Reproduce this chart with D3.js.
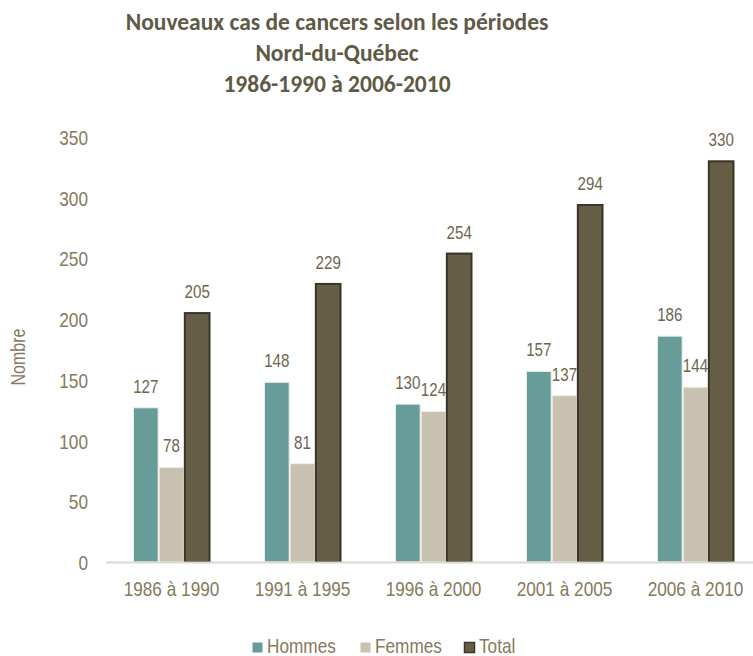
<!DOCTYPE html>
<html><head><meta charset="utf-8">
<script src="https://cdn.jsdelivr.net/npm/d3@7"></script>
<style>body{margin:0;background:#fff}</style>
</head><body>
<script>
const categories = ["1986 à 1990","1991 à 1995","1996 à 2000","2001 à 2005","2006 à 2010"];
const hommes = [127,148,130,157,186];
const femmes = [78,81,124,137,144];
const total = [205,229,254,294,330];
const seriesNames = ["Hommes","Femmes","Total"];
const yTicks = [0,50,100,150,200,250,300,350];
const titleLines = ["Nouveaux cas de cancers selon les périodes","Nord-du-Québec","1986-1990 à 2006-2010"];

const W=753,H=656;
const colors=["#689c99","#c9c1b0","#665d46"];
const strokes=["#e8f0ef","#f4f1ea","#3a3528"];
const textCol="#857a5d";
const sans="'Liberation Sans',Arial,sans-serif";
const SX=0.82;

const svg=d3.select("body").append("svg").attr("width",W).attr("height",H);
const x0=d3.scaleBand().domain(categories).range([106,761]).paddingInner(0.412).paddingOuter(0.206);
const x1=d3.scaleBand().domain(seriesNames).range([0,x0.bandwidth()]);
const y=d3.scaleLinear().domain([0,350]).range([562,137]);

const tl=svg.append("g").attr("font-family","Carlito,'Open Sans',sans-serif").attr("font-weight","bold").attr("font-size",23.5).attr("fill","#5f5a46").attr("text-anchor","middle");
titleLines.forEach((t,i)=>tl.append("text").attr("x",337).attr("y",30+i*31).text(t));

// y axis
const ya=svg.append("g").attr("transform","translate(88,0)").call(d3.axisLeft(y).tickValues(yTicks).tickSize(0).tickPadding(0));
ya.select(".domain").remove();
ya.selectAll("text").attr("font-family",sans).attr("font-size",21).attr("fill",textCol).attr("dy","0.36em").attr("x",0).attr("transform",`scale(${SX},1)`);

svg.append("text").attr("transform",`translate(25,357) rotate(-90) scale(${SX},1)`).attr("text-anchor","middle")
 .attr("font-family",sans).attr("font-size",19.5).attr("fill",textCol).text("Nombre");

const data=[hommes,femmes,total];
const g=svg.append("g");
categories.forEach((c,i)=>{
  seriesNames.forEach((s,j)=>{
    const v=data[j][i];
    const bx=x0(c)+x1(s);
    g.append("rect").attr("x",bx+0.5).attr("y",y(v)).attr("width",x1.bandwidth()-1).attr("height",y(0)-y(v))
     .attr("fill",colors[j]).attr("stroke",strokes[j]).attr("stroke-width",j===2?2:1);
    g.append("text").attr("transform",`translate(${bx+x1.bandwidth()/2},${y(v)-15}) scale(${SX},1)`).attr("text-anchor","middle")
     .attr("font-family",sans).attr("font-size",18.5).attr("fill","#6e6650").text(v);
  });
});

// x axis
svg.append("line").attr("x1",106).attr("x2",753).attr("y1",562.5).attr("y2",562.5).attr("stroke","#dcd8cf").attr("stroke-width",2);
const xa=svg.append("g").attr("transform","translate(0,562)").call(d3.axisBottom(x0).tickSize(0).tickPadding(0));
xa.select(".domain").remove();
xa.selectAll("text").attr("font-family",sans).attr("font-size",21).attr("fill",textCol).attr("dy",0).attr("y",34).attr("transform",`scale(${SX},1)`);

// legend
const legX=[252,360,464];
const lg=svg.append("g");
seriesNames.forEach((s,j)=>{
  lg.append("rect").attr("x",legX[j]+0.5).attr("y",642.5).attr("width",10).attr("height",10).attr("fill",colors[j]).attr("stroke",j===2?strokes[2]:"none").attr("stroke-width",1.5);
  lg.append("text").attr("transform",`translate(${legX[j]+15},653) scale(${SX},1)`).attr("font-family",sans).attr("font-size",21).attr("fill",textCol).text(s);
});
</script>
</body></html>
